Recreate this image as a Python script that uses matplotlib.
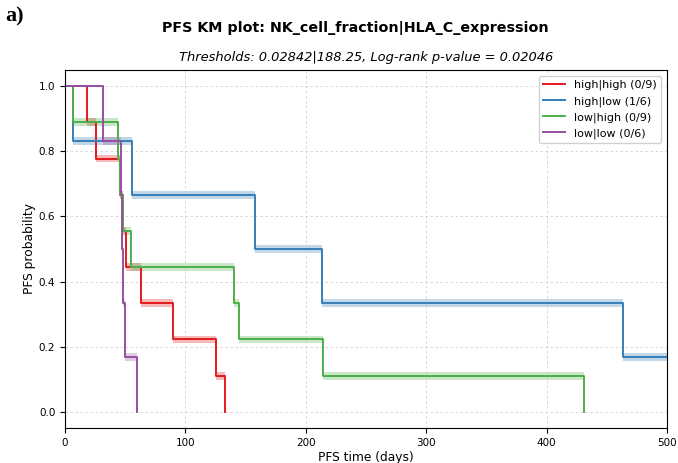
import matplotlib
matplotlib.use("Agg")
import matplotlib.pyplot as plt
import numpy as np

# Kaplan-Meier step data (event times in days, survival after each step)
hh_t = [0, 18.5, 26, 46, 48, 51, 63, 90, 125, 133]
hh_s = [1.0, 0.889, 0.778, 0.667, 0.556, 0.444, 0.333, 0.222, 0.111, 0.0]

hl_t = [0, 6.4, 55.6, 157.8, 213.5, 463.5, 500]
hl_s = [1.0, 0.833, 0.667, 0.5, 0.333, 0.167, 0.167]

lh_t = [0, 6.4, 43.7, 45.7, 48.5, 54.8, 140.6, 144.2, 214, 431]
lh_s = [1.0, 0.889, 0.778, 0.667, 0.556, 0.444, 0.333, 0.222, 0.111, 0.0]

ll_t = [0, 31.3, 46.2, 47.4, 48.5, 49.5, 59.8]
ll_s = [1.0, 0.833, 0.667, 0.5, 0.333, 0.167, 0.0]

labels = ["high|high (0/9)", "high|low (1/6)", "low|high (0/9)", "low|low (0/6)"]
colors = ["#e41a1c", "#377eb8", "#4daf4a", "#984ea3"]
series = [(hh_t, hh_s), (hl_t, hl_s), (lh_t, lh_s), (ll_t, ll_s)]

fig = plt.figure(figsize=(6.78, 4.63), dpi=100)
ax = fig.add_axes([65/678, 1-428/463, (667-65)/678, (428-70)/463])

band = 0.012
for (t, s), lab, c in zip(series, labels, colors):
    t = np.array(t); s = np.array(s)
    w = np.where((s >= 1.0) | (s <= 0.0), 0.0, band)
    ax.fill_between(t, s - w, s + w, step="post", color=c, alpha=0.3, lw=0)
    ax.step(t, s, where="post", color=c, lw=1.4, label=lab)

ax.set_xlim(0, 500)
ax.set_ylim(-0.05, 1.05)
ax.set_xticks([0, 100, 200, 300, 400, 500])
ax.set_yticks([0.0, 0.2, 0.4, 0.6, 0.8, 1.0])
ax.tick_params(labelsize=7.5)
ax.grid(True, linestyle=(0, (3, 3)), color="#d0d0d0", lw=0.6)
ax.set_xlabel("PFS time (days)", fontsize=8.8, labelpad=2)
ax.set_ylabel("PFS probability", fontsize=8.8, labelpad=2)
ax.legend(loc="upper right", fontsize=8, framealpha=0.9)

fig.text(355/678, 1-28/463, "PFS KM plot: NK_cell_fraction|HLA_C_expression",
         ha="center", va="center", fontsize=10.3, fontweight="bold")
fig.text(366/678, 1-58/463, "Thresholds: 0.02842|188.25, Log-rank p-value = 0.02046",
         ha="center", va="center", fontsize=9.4, style="italic")
fig.text(5/678, 1-16/463, "a)", ha="left", va="center", fontsize=16,
         fontweight="bold", family="Liberation Serif")

fig.savefig("out.png", dpi=100)
